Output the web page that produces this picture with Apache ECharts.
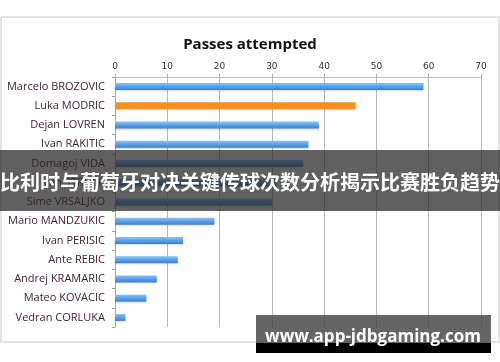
<!DOCTYPE html>
<html><head><meta charset="utf-8">
<script src="https://cdn.jsdelivr.net/npm/echarts@6/dist/echarts.min.js"></script>
<style>html,body{margin:0;padding:0;background:#fff;}#c{width:500px;height:362px;}</style>
</head><body><div id="c"></div>
<script>
const players = ['Marcelo BROZOVIC','Luka MODRIC','Dejan LOVREN','Ivan RAKITIC','Domagoj VIDA','Ivan STRINIC','Sime VRSALJKO','Mario MANDZUKIC','Ivan PERISIC','Ante REBIC','Andrej KRAMARIC','Mateo KOVACIC','Vedran CORLUKA'];
const passes = [59,46,39,37,36,31,30,19,13,12,8,6,2];
const highlighted = 'Luka MODRIC';
const chartTitle = 'Passes attempted';
const bannerText = '比利时与葡萄牙对决关键传球次数分析揭示比赛胜负趋势';
const watermarkText = 'www.app-jdbgaming.com';

const blueGrad = new echarts.graphic.LinearGradient(0,0,0,1,[
  {offset:0,color:'#8cc4f7'},{offset:0.45,color:'#5ea3ec'},{offset:1,color:'#3b7fcf'}]);
const chart = echarts.init(document.getElementById('c'));
chart.setOption({
  animation:false,
  backgroundColor:'#fff',
  title:{text:chartTitle,left:'center',top:32,textStyle:{fontFamily:'Open Sans',fontWeight:'bold',fontSize:15,color:'#111'}},
  grid:{left:115,right:19,top:77,bottom:35},
  xAxis:{type:'value',position:'top',min:0,max:70,interval:10,
    axisLine:{show:true,lineStyle:{color:'#bbb'}},
    axisTick:{show:true,length:3,lineStyle:{color:'#aaa'}},
    axisLabel:{fontFamily:'DejaVu Sans',fontSize:9,color:'#333',margin:6},
    splitLine:{show:true,lineStyle:{color:'#b8b8b8',width:1}}},
  yAxis:{type:'category',data:players,inverse:true,
    axisLine:{show:true,lineStyle:{color:'#aaa'}},
    axisTick:{show:true,length:3,lineStyle:{color:'#999'}},
    axisLabel:{fontFamily:'Open Sans',fontSize:11,color:'#3f1a33',margin:10}},
  series:[{type:'bar',barWidth:7,
    data:passes.map((v,i)=>({value:v,itemStyle:{color: players[i]===highlighted ? '#f7901e' : blueGrad}})),
    itemStyle:{shadowColor:'rgba(0,0,0,0.15)',shadowBlur:2,shadowOffsetY:1}}],
  graphic:[
    {type:'rect',z:100,shape:{x:1,y:17,width:498,height:325},style:{fill:'none',stroke:'#c8c8c8',lineWidth:1}},
    {type:'rect',z:100,shape:{x:0,y:150,width:500,height:61},style:{fill:'rgba(40,40,40,0.74)'}},
    {type:'text',z:101,x:250,y:182,style:{text:bannerText,fill:'#fff',font:'bold 20px "Noto Sans CJK SC"',textAlign:'center',textVerticalAlign:'middle'}},
    {type:'rect',z:100,shape:{x:256,y:315,width:235,height:28},style:{fill:'rgba(70,70,70,0.83)'}},
    {type:'rect',z:100,shape:{x:256,y:343,width:235,height:10},style:{fill:'#000'}},
    {type:'text',z:101,x:373,y:337,style:{text:watermarkText,fill:'#fff',font:'bold 17px "Open Sans"',textAlign:'center',textVerticalAlign:'middle'}}
  ]
});
</script></body></html>
